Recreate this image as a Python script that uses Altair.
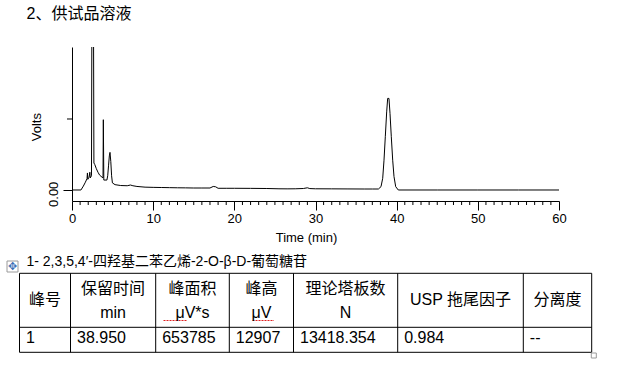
import altair as alt
import pandas as pd

FONT = "Liberation Sans, Noto Sans CJK SC, sans-serif"

TITLE = "2、供试品溶液"
CAPTION = "1- 2,3,5,4′-四羟基二苯乙烯-2-O-β-D-葡萄糖苷"
X_TITLE = "Time (min)"
Y_TITLE = "Volts"

# chromatogram trace (time in min, signal in arbitrary volts units)
time_min = [0.0, 1.1, 1.4, 1.65, 1.85, 1.9, 1.95, 2.1, 2.2, 2.25, 2.4, 2.5, 2.6, 2.7, 2.8,
            3.0, 3.2, 3.4, 3.7, 3.82, 3.86, 3.92, 4.3, 4.4, 4.5, 4.6, 4.68, 4.78, 4.88, 4.98,
            5.3, 6.0, 6.8, 7.2, 7.5, 8.0, 9.0, 10.0, 11.0, 12.0, 13.0, 14.0, 15.0, 16.0,
            17.0, 17.4, 17.7, 18.0, 19.0, 20.0, 22.0, 24.0, 25.5, 26.5, 27.5, 28.5, 29.0,
            29.3, 30.0, 32.0, 34.0, 36.0, 37.0, 37.75, 38.07, 38.28, 38.44, 38.6, 38.77,
            38.89, 39.05, 39.18, 39.34, 39.51, 39.67, 39.88, 40.2, 45.0, 50.0, 55.0, 60.0]
volts = [0.0, 0.0, 0.055, 0.11, 0.16, 0.24, 0.15, 0.18, 0.25, 0.17, 0.2, 4.5, 4.5, 0.38, 0.36,
         0.3, 0.25, 0.21, 0.18, 0.17, 0.99, 0.14, 0.14, 0.2, 0.34, 0.48, 0.53, 0.4, 0.2, 0.1,
         0.075, 0.063, 0.06, 0.07, 0.06, 0.05, 0.04, 0.037, 0.035, 0.033, 0.031, 0.03, 0.028,
         0.028, 0.028, 0.05, 0.045, 0.024, 0.024, 0.024, 0.023, 0.021, 0.017, 0.016, 0.017,
         0.021, 0.031, 0.02, 0.017, 0.016, 0.015, 0.014, 0.014, 0.014, 0.047, 0.165, 0.42,
         0.75, 1.10, 1.29, 1.29, 1.08, 0.75, 0.42, 0.19, 0.047, 0.0, 0.0, 0.0, 0.0, 0.0]
assert len(time_min) == len(volts)

x_major_ticks = [0, 10, 20, 30, 40, 50, 60]
x_minor_ticks = [m for m in range(0, 61) if m % 10 != 0]
y_labeled_ticks = [0]
y_unlabeled_ticks = [1]

# results table
header_line1 = ["峰号", "保留时间", "峰面积", "峰高", "理论塔板数", "USP 拖尾因子", "分离度"]
header_line2 = ["", "min\u00a0\u00a0\u00a0\u00a0", "μV*s\u00a0\u00a0", "μV", "N", "", ""]
row_values = ["1", "38.950", "653785", "12907", "13418.354", "0.984", "--"]

# page layout (page pixel units)
COL_EDGES = [19.5, 70.5, 155.7, 229.3, 293.5, 397.7, 523.3, 591.7]
ROW_EDGES = [273.3, 327.3, 352.3]
HDR_SINGLE_BASE = 305
HDR_LINE1_BASE = 294
HDR_LINE2_BASE = 317.5
ROW_BASE = 343.3
CELL_PAD = 6.5
CAPTION_X, CAPTION_BASE = 26.5, 265.5
TITLE_X, TITLE_BASE = 26.5, 18.5
# spell-check squiggles under the two "μV" unit cells
SQUIGGLE_X = [(163.5, 186.5), (252.5, 274.0)]
SQUIGGLE_Y = 320.5

# plot-area geometry
PL, PT, PW, PH = 72, 47, 487, 154

# ---------------- chromatogram ----------------
trace = pd.DataFrame({"t": time_min, "v": volts})
xs = alt.Scale(domain=[0, 60], nice=False, zero=False)
ys = alt.Scale(domain=[-0.155, 2.014], nice=False, zero=False)

line = alt.Chart(trace).mark_line(color="black", strokeWidth=1, clip=True).encode(
    x=alt.X("t:Q", scale=xs, axis=alt.Axis(
        values=x_major_ticks, tickSize=9, tickColor="black", domainColor="black",
        labelFontSize=13, labelFont=FONT, labelColor="black", labelPadding=12.7,
        labelBaseline="alphabetic", labelFlush=False, grid=False,
        title=X_TITLE, titleFont=FONT, titleFontSize=13, titleFontWeight="normal",
        titleColor="black", titleX=234, titleY=40, titleAlign="center",
        titleBaseline="alphabetic")),
    y=alt.Y("v:Q", scale=ys, axis=alt.Axis(
        values=y_labeled_ticks, tickSize=9, tickColor="black", domainColor="black",
        labelExpr="format(datum.value, '.2f')", labelAngle=270, labelAlign="center",
        labelBaseline="alphabetic", labelPadding=5.7, labelOffset=3.8,
        labelFontSize=13, labelFont=FONT, labelColor="black", labelFlush=False, grid=False,
        title=Y_TITLE, titleFont=FONT, titleFontSize=13, titleFontWeight="normal",
        titleColor="black", titleAngle=270, titleX=-31.5, titleY=79.7,
        titleAlign="center", titleBaseline="alphabetic")),
)

minor_x = alt.Chart(pd.DataFrame({"t": x_minor_ticks})).mark_rule(
    color="black", strokeWidth=1).encode(
    x=alt.X("t:Q", scale=xs), y=alt.value(PH), y2=alt.value(PH + 4))

minor_y = alt.Chart(pd.DataFrame({"v": y_unlabeled_ticks})).mark_rule(
    color="black", strokeWidth=1).encode(
    y=alt.Y("v:Q", scale=ys), x=alt.value(-5), x2=alt.value(0))

chrom = alt.layer(line, minor_x, minor_y)

# ---------------- page texts and table ----------------
XT = alt.Scale(domain=[PL, PL + PW], nice=False, zero=False)
YT = alt.Scale(domain=[PT, PT + PH], nice=False, zero=False, reverse=True)

hl = pd.DataFrame({"x": [COL_EDGES[0]] * len(ROW_EDGES),
                   "x2": [COL_EDGES[-1]] * len(ROW_EDGES), "y": ROW_EDGES})
vl = pd.DataFrame({"x": COL_EDGES, "y": [ROW_EDGES[0]] * len(COL_EDGES),
                   "y2": [ROW_EDGES[-1]] * len(COL_EDGES)})

hrules = alt.Chart(hl).mark_rule(color="black", strokeWidth=1).encode(
    x=alt.X("x:Q", scale=XT, axis=None), x2="x2:Q",
    y=alt.Y("y:Q", scale=YT, axis=None))
vrules = alt.Chart(vl).mark_rule(color="black", strokeWidth=1).encode(
    x=alt.X("x:Q", scale=XT, axis=None),
    y=alt.Y("y:Q", scale=YT, axis=None), y2="y2:Q")

sq = pd.DataFrame({"x": [a for a, b in SQUIGGLE_X], "x2": [b for a, b in SQUIGGLE_X],
                   "y": [SQUIGGLE_Y] * len(SQUIGGLE_X)})
squiggles = alt.Chart(sq).mark_rule(color="#e02020", strokeWidth=1.2,
                                    strokeDash=[2, 1]).encode(
    x=alt.X("x:Q", scale=XT, axis=None), x2="x2:Q",
    y=alt.Y("y:Q", scale=YT, axis=None))

hdr_rows = []
for i, (a, b) in enumerate(zip(header_line1, header_line2)):
    cx = (COL_EDGES[i] + COL_EDGES[i + 1]) / 2
    if b:
        hdr_rows.append({"text": a, "x": cx, "y": HDR_LINE1_BASE})
        hdr_rows.append({"text": b, "x": cx, "y": HDR_LINE2_BASE})
    else:
        hdr_rows.append({"text": a, "x": cx, "y": HDR_SINGLE_BASE})
hdr = pd.DataFrame(hdr_rows)

vals = pd.DataFrame({"text": row_values,
                     "x": [COL_EDGES[i] + CELL_PAD for i in range(len(row_values))],
                     "y": [ROW_BASE] * len(row_values)})

cap = pd.DataFrame({"text": [CAPTION], "x": [CAPTION_X], "y": [CAPTION_BASE]})
ttl = pd.DataFrame({"text": [TITLE], "x": [TITLE_X], "y": [TITLE_BASE]})

def text_layer(df, align, size):
    return alt.Chart(df).mark_text(
        align=align, baseline="alphabetic", fontSize=size, font=FONT, color="black"
    ).encode(x=alt.X("x:Q", scale=XT, axis=None),
             y=alt.Y("y:Q", scale=YT, axis=None), text="text:N")

hdr_text = text_layer(hdr, "center", 16)
val_text = text_layer(vals, "left", 16)
cap_text = text_layer(cap, "left", 14)
title_text = text_layer(ttl, "left", 16)

# Word table handles
handles = pd.DataFrame({"x": [12.5, 593.8], "y": [266.5, 355.5], "s": [121, 25]})
handle_boxes = alt.Chart(handles).mark_point(
    shape="square", filled=True, fill="white", stroke="#9a9a9a", strokeWidth=1, opacity=1
).encode(x=alt.X("x:Q", scale=XT, axis=None), y=alt.Y("y:Q", scale=YT, axis=None),
         size=alt.Size("s:Q", scale=None, legend=None))
move_icon = alt.Chart(handles.iloc[:1]).mark_text(
    text="✥", fontSize=11, font="DejaVu Sans", color="#3b6fb6", baseline="middle",
    align="center").encode(x=alt.X("x:Q", scale=XT, axis=None),
                           y=alt.Y("y:Q", scale=YT, axis=None))

page = alt.layer(title_text, hrules, vrules, squiggles, hdr_text, val_text, cap_text,
                 handle_boxes, move_icon)

chart = alt.layer(chrom, page).resolve_scale(x="independent", y="independent").properties(
    width=PW, height=PH,
    padding={"left": PL, "top": PT, "right": 622 - PL - PW, "bottom": 370 - PT - PH},
    autosize=alt.AutoSizeParams(type="none"),
    background="white",
).configure_view(stroke=None)

chart.save("out.html", embed_options={"renderer": "svg", "actions": False})
